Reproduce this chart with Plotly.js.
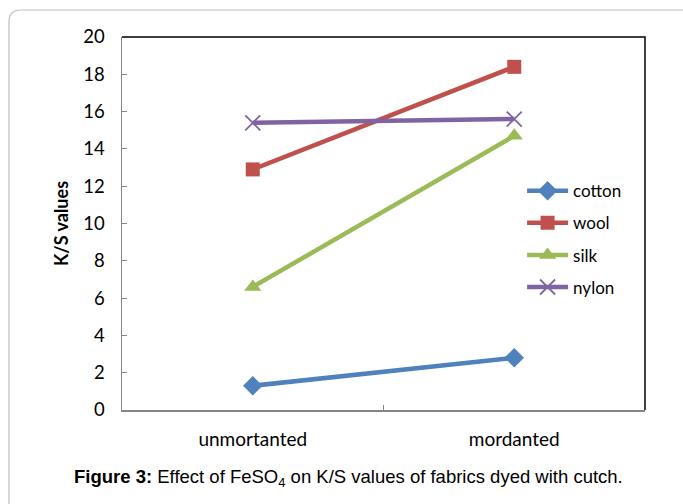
<!DOCTYPE html>
<html>
<head>
<meta charset="utf-8">
<script src="https://cdn.plot.ly/plotly-3.0.1.min.js"></script>
<style>html,body{margin:0;padding:0;background:#fff;}#chart{width:683px;height:504px;}</style>
</head>
<body>
<div id="chart"></div>
<script>
const categories = ["unmortanted", "mordanted"];
const cotton = [1.3, 2.8];
const wool = [12.9, 18.4];
const silk = [6.6, 14.7];
const nylon = [15.4, 15.6];
const seriesNames = ["cotton", "wool", "silk", "nylon"];
const yTicks = [0, 2, 4, 6, 8, 10, 12, 14, 16, 18, 20];

const colors = ["#4F81BD", "#C0504D", "#9BBB59", "#8064A2"];
const symbols = ["diamond", "square", "triangle-up", "x-thin-open"];
const sizes = [15, 14, 15, 15];
const values = [cotton, wool, silk, nylon];

const traces = values.map((v, i) => ({
  type: "scatter",
  mode: "lines+markers",
  x: categories,
  y: v,
  name: seriesNames[i],
  legendgroup: "g" + i,
  line: {color: colors[i], width: 4.5},
  marker: {symbol: symbols[i], size: sizes[i], color: colors[i],
           line: {color: colors[i], width: i === 3 ? 1.8 : 0}}
}));

const fam = "Lato, 'Open Sans', sans-serif";

const layout = {
  width: 683, height: 504,
  margin: {l: 122, r: 38, t: 37, b: 94},
  paper_bgcolor: "#fff", plot_bgcolor: "#fff",
  showlegend: true,
  legend: {x: 0.765, y: 0.635, xanchor: "left", yanchor: "top",
           font: {family: fam, size: 17, color: "#000"},
           tracegroupgap: 7, bgcolor: "rgba(0,0,0,0)", itemwidth: 41},
  xaxis: {type: "category", range: [-0.5, 1.5], tickson: "boundaries",
          ticks: "inside", ticklen: 5, tickcolor: "#868686", tickwidth: 1,
          showline: true, linecolor: "#868686", linewidth: 1.5,
          showgrid: false, zeroline: false,
          tickfont: {family: fam, size: 19, color: "#000"}, ticklabelstandoff: 12},
  yaxis: {range: [0, 20], tickvals: yTicks, ticktext: yTicks.map(String),
          ticks: "inside", ticklen: 5, tickcolor: "#868686", tickwidth: 1,
          showline: true, linecolor: "#868686", linewidth: 1.5,
          showgrid: false, zeroline: false,
          tickfont: {family: fam, size: 18.5, color: "#000"}, ticklabelstandoff: 12,
          title: {text: "<b>K/S values</b>", font: {family: fam, size: 18, color: "#000"}, standoff: 10}},
  shapes: [
    {type: "path", xref: "paper", yref: "paper", path: "M 0 1 L 1 1 L 1 0",
     line: {color: "#000", width: 1.5}},
    {type: "path", xref: "paper", yref: "paper",
     path: "M -0.2161 -0.3 L -0.2161 1.0402 Q -0.2161 1.0724 -0.1931 1.0724 L 1.1 1.0724",
     line: {color: "#bdbdbd", width: 1.2}}
  ],
  annotations: [
    {xref: "paper", yref: "paper", x: 0.4326, y: -0.182, xanchor: "center", yanchor: "middle",
     showarrow: false,
     text: "<b>Figure 3:</b> Effect of FeSO<sub>4</sub> on K/S values of fabrics dyed with cutch.",
     font: {family: "'Liberation Sans', Arial, sans-serif", size: 18.5, color: "#000"}}
  ]
};

Plotly.newPlot("chart", traces, layout, {displayModeBar: false, staticPlot: true});
</script>
</body>
</html>
